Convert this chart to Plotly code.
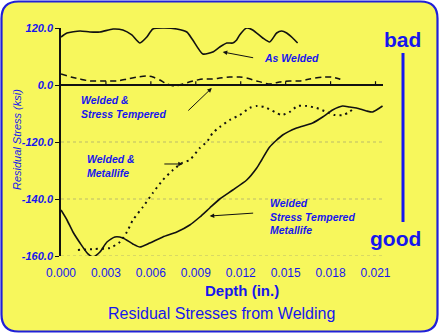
import plotly.graph_objects as go

# Depth (in.) and residual stress readings for each weld treatment
aw_depth = [0.0, 0.0004, 0.00127, 0.00193, 0.0026, 0.00347, 0.00413, 0.00473, 0.00527, 0.00573,
            0.00613, 0.0068, 0.00773, 0.0084, 0.0088, 0.00947, 0.01013, 0.0106, 0.01107, 0.01147,
            0.01173, 0.01193, 0.0124, 0.0128, 0.01347, 0.01393, 0.0144, 0.01473, 0.01507, 0.01547, 0.0158]
aw_stress = [101, 109.5, 113.7, 111.6, 111.6, 117.9, 115.8, 105.3, 88.4, 101,
             117.9, 120, 117.9, 111.6, 94.7, 65.3, 69.5, 80, 88.4, 88.4,
             94.7, 105.3, 120, 115.8, 99, 90.5, 109.5, 113.7, 109.5, 99, 88.4]

st_depth = [0.0, 0.00067, 0.00127, 0.00193, 0.00280, 0.00373, 0.0044, 0.00507, 0.00573, 0.00613,
            0.0066, 0.00707, 0.0076, 0.00813, 0.0088, 0.00947, 0.01013, 0.0106, 0.01127, 0.01193,
            0.0124, 0.01307, 0.01393, 0.0146, 0.01527, 0.01593, 0.0166, 0.01747, 0.01807, 0.0186, 0.0188]
st_stress = [23.2, 16.8, 12.6, 8.4, 8.4, 8.4, 12.6, 16.8, 18.9, 16.8,
             10.5, 2.1, -2.1, 2.1, 8.4, 12.6, 12.6, 14.7, 16.8, 16.8,
             14.7, 8.4, 2.1, 6.3, 8.4, 8.4, 12.6, 16.8, 16.8, 12.6, 8.4]

ml_depth = [0.00113, 0.00227, 0.00327, 0.00393, 0.0044, 0.0048, 0.00547, 0.00613, 0.0068, 0.00747,
            0.00807, 0.0086, 0.00927, 0.00973, 0.01013, 0.0106, 0.01127, 0.01193, 0.0126, 0.01307,
            0.0136, 0.01427, 0.01473, 0.01527, 0.0158, 0.0164, 0.01707, 0.01773, 0.01827, 0.0188,
            0.01927, 0.0196]
ml_stress = [-347.3, -345.2, -343.1, -330.5, -309.5, -284.2, -256.8, -227.3, -200, -179,
             -164.2, -157.9, -132.6, -120, -101, -88.4, -73.7, -63.2, -48.4, -44.2,
             -46.3, -56.8, -63.2, -56.8, -44.2, -44.2, -48.4, -56.8, -63.2, -63.2,
             -56.8, -46.3]

stm_depth = [0.0, 0.0004, 0.0008, 0.00127, 0.0018, 0.00213, 0.0026, 0.00307, 0.0036, 0.00413,
             0.0048, 0.00527, 0.00593, 0.0068, 0.00773, 0.0086, 0.00927, 0.00993, 0.0106, 0.01147,
             0.0124, 0.01307, 0.0134, 0.01393, 0.0148, 0.01573, 0.0168, 0.01747, 0.01813, 0.0188,
             0.01927, 0.01973, 0.0204, 0.0208, 0.02127, 0.02147]
stm_stress = [-263.2, -284.2, -309.5, -332.6, -355.7, -362, -351.5, -330.5, -320, -322,
              -334.7, -341, -332.6, -320, -309.5, -294.7, -277.9, -258.9, -240, -221,
              -200, -174.7, -157.9, -130.5, -105.3, -90.5, -80, -67.4, -52.6, -44.2,
              -46.3, -48.4, -54.7, -56.8, -48.4, -44.2]

x_ticks = [0.0, 0.003, 0.006, 0.009, 0.012, 0.015, 0.018, 0.021]
y_ticks = [120, 0, -120, -240, -360]
y_tick_labels = ["120.0", "0.0", "-120.0", "-140.0", "-160.0"]
grid_levels = [-120, -240, -360]

BLUE = "#1616EE"
YELLOW = "#F7F75C"
FONT = "Arial, 'Liberation Sans', sans-serif"

W, H = 439, 333
ML, MR, MT, MB = 61, 56, 28, 77
PW, PH = W - ML - MR, H - MT - MB


def px(x):
    """figure pixel column -> paper x (paper spans the plot area)"""
    return (x - ML) / PW


def py(y):
    """figure pixel row -> paper y"""
    return (H - MB - y) / PH


fig = go.Figure()

line_style = dict(color="#111111", width=1.6, shape="spline", smoothing=0.6)
fig.add_trace(go.Scatter(x=aw_depth, y=aw_stress, mode="lines", line=line_style, cliponaxis=False))
fig.add_trace(go.Scatter(x=st_depth, y=st_stress, mode="lines",
                         line=dict(line_style, dash="6px,4px", width=1.5), cliponaxis=False))
fig.add_trace(go.Scatter(x=ml_depth, y=ml_stress, mode="lines",
                         line=dict(line_style, dash="2px,4px", width=2), cliponaxis=False))
fig.add_trace(go.Scatter(x=stm_depth, y=stm_stress, mode="lines", line=line_style, cliponaxis=False))

shapes = []
# rounded yellow panel behind everything
r = 17
l, t, rt, b = 1.5, 1.5, 437.5, 331.5
path = (f"M {px(l + r)} {py(t)} L {px(rt - r)} {py(t)} "
        f"Q {px(rt)} {py(t)} {px(rt)} {py(t + r)} "
        f"L {px(rt)} {py(b - r)} Q {px(rt)} {py(b)} {px(rt - r)} {py(b)} "
        f"L {px(l + r)} {py(b)} Q {px(l)} {py(b)} {px(l)} {py(b - r)} "
        f"L {px(l)} {py(t + r)} Q {px(l)} {py(t)} {px(l + r)} {py(t)} Z")
shapes.append(dict(type="path", xref="paper", yref="paper", path=path, fillcolor=YELLOW,
                   line=dict(color="#2020D8", width=2.2), layer="below"))

# faint dotted grid lines
for g in grid_levels:
    shapes.append(dict(type="line", xref="paper", yref="y", x0=0, x1=1, y0=g, y1=g,
                       line=dict(color="rgba(140,140,120,0.55)", width=1, dash="dot"), layer="below"))

# short tick marks along the zero line
for xv in x_ticks[1:]:
    shapes.append(dict(type="line", xref="x", yref="y", x0=xv, x1=xv, y0=0, y1=8,
                       line=dict(color="#111111", width=1.2)))

# bad/good scale bar
shapes.append(dict(type="line", xref="paper", yref="paper", x0=px(403), x1=px(403),
                   y0=py(53), y1=py(222), line=dict(color=BLUE, width=3)))

fig.update_layout(shapes=shapes)

label_font = dict(family=FONT, size=10.5, color=BLUE, weight="bold", style="italic")
annotations = [
    dict(text="<b><i>As Welded</i></b>", x=0.01343, y=57, xanchor="left", yanchor="middle"),
    dict(text="<b><i>Welded &<br>Stress Tempered</i></b>", x=0.00120, y=-47, xanchor="left",
         yanchor="middle", align="left"),
    dict(text="<b><i>Welded &<br>Metallife</i></b>", x=0.00160, y=-170, xanchor="left",
         yanchor="middle", align="left"),
    dict(text="<b><i>Welded<br>Stress Tempered<br>Metallife</i></b>", x=0.01380, y=-277,
         xanchor="left", yanchor="middle", align="left"),
]
for a in annotations:
    a.update(xref="x", yref="y", showarrow=False, font=label_font)

arrows = [
    ((0.01293, 56.8), (0.0108, 69.5)),
    ((0.0084, -56.8), (0.01007, -6.3)),
    ((0.0068, -166.3), (0.00813, -166.3)),
    ((0.01293, -269.5), (0.00993, -275.8)),
]
for (tx, ty), (hx, hy) in arrows:
    annotations.append(dict(x=hx, y=hy, ax=tx, ay=ty, xref="x", yref="y", axref="x", ayref="y",
                            text="", showarrow=True, arrowhead=2, arrowsize=0.9, arrowwidth=1,
                            arrowcolor="#111111"))

free_text = [
    dict(text="<b>bad</b>", x=px(402), y=py(39), font=dict(family=FONT, size=21, color=BLUE)),
    dict(text="<b>good</b>", x=px(395), y=py(238), font=dict(family=FONT, size=21, color=BLUE)),
    dict(text="<i>Residual Stress (ksi)</i>", x=px(17), y=py(140), textangle=-90,
         font=dict(family=FONT, size=11, color=BLUE)),
    dict(text="<b>Depth (in.)</b>", x=px(242), y=py(290), font=dict(family=FONT, size=15, color=BLUE)),
    dict(text="Residual Stresses from Welding", x=px(221), y=py(313),
         font=dict(family=FONT, size=16, color=BLUE)),
]
for a in free_text:
    a.update(xref="paper", yref="paper", showarrow=False, xanchor="center", yanchor="middle")
annotations += free_text

fig.update_layout(
    width=W, height=H,
    margin=dict(l=ML, r=MR, t=MT, b=MB),
    paper_bgcolor="white",
    plot_bgcolor="rgba(0,0,0,0)",
    showlegend=False,
    annotations=annotations,
    xaxis=dict(range=[0, 0.0215], tickvals=x_ticks, ticktext=[f"{v:.3f}" for v in x_ticks],
               showgrid=False, zeroline=False, showline=False, ticks="", ticklabelstandoff=8,
               tickfont=dict(family=FONT, size=12, color=BLUE)),
    yaxis=dict(range=[-360, 120], tickvals=y_ticks,
               ticktext=[f"<b><i>{s}</i></b>" for s in y_tick_labels],
               showgrid=False, zeroline=True, zerolinecolor="#111111", zerolinewidth=1.5,
               showline=True, linecolor="#111111", linewidth=1.5,
               ticks="outside", ticklen=4, tickcolor="#111111",
               tickfont=dict(family=FONT, size=11, color=BLUE)),
)

fig.write_html("out.html")
